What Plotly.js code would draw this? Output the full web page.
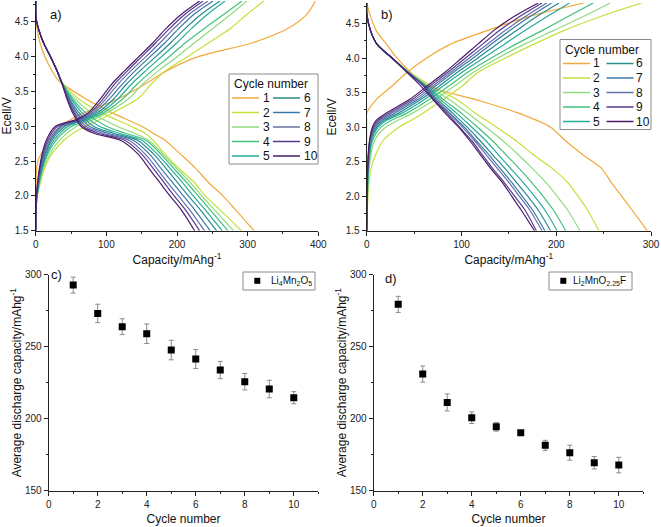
<!DOCTYPE html>
<html><head><meta charset="utf-8">
<script src="https://cdn.plot.ly/plotly-3.0.1.min.js"></script>
<style>html,body{margin:0;padding:0;background:#fff}</style>
</head><body>
<div id="chart" style="width:661px;height:527px"></div>
<script>
// ---------- data ----------
const cycleLabels = ['1','2','3','4','5','6','7','8','9','10'];
const cycleColors = ['#f2a93b','#c4e03a','#8fdc80','#43bf7a','#26ac9a','#2a8a8c','#3a78a8','#6670a6','#553a8e','#4a1b6a'];

// panel a) discharge: voltage levels (V) and capacity (mAh/g) of each cycle at those levels
const aDisV = [4.8, 4.55, 4.4, 4.2, 4.0, 3.8, 3.65, 3.4, 3.2, 3.0, 2.9, 2.8, 2.6, 2.4, 2.2, 2.0, 1.8, 1.5];
const aDisCap = [
  [0, 0, 2, 6, 13, 23, 33, 70, 107, 150, 166, 183, 205, 226, 244, 265, 283, 309],
  [0, 0.5, 4, 11, 21, 30, 36, 60, 92, 135, 155, 166, 183, 202, 224, 240, 261, 291],
  [0, 0.5, 4, 11, 21, 30, 36, 55, 78, 115, 140, 160, 180, 199, 218, 235, 253, 280],
  [0, 0.5, 4, 11, 21, 30, 36, 52, 70, 100, 127, 156, 177, 195, 213, 230, 247, 272],
  [0, 0.5, 4, 11, 21, 30, 36, 50, 65, 90, 118, 150, 172, 190, 207, 223, 240, 264],
  [0, 0.5, 4, 11, 21, 30, 36, 48, 61, 82, 110, 144, 167, 184, 200, 216, 233, 256],
  [0, 0.5, 4, 11, 21, 30, 36, 47, 58, 76, 102, 138, 161, 177, 193, 209, 225, 247],
  [0, 0.5, 4, 11, 21, 30, 36, 46, 56, 71, 95, 132, 155, 171, 186, 202, 218, 239],
  [0, 0.5, 4, 11, 21, 30, 36, 45, 54, 67, 88, 126, 150, 166, 181, 196, 212, 232],
  [0, 0.5, 4, 11, 21, 30, 36, 44, 52, 64, 82, 120, 145, 160, 175, 190, 206, 225]
];
// panel a) charge
const aChgV = [1.5, 2.0, 2.5, 2.8, 3.0, 3.1, 3.2, 3.4, 3.6, 3.8, 4.0, 4.2, 4.4, 4.6, 4.8];
const aChgCap = [
  [0, 0, 3, 20, 35, 50, 70, 118, 154, 186, 230, 307, 356, 383, 396],
  [0, 2.5, 17, 40, 70, 92, 110, 145, 163, 184, 215, 245, 275, 298, 323],
  [0, 2, 15, 34, 58, 82, 102, 132, 151, 174, 200, 225, 250, 275, 299],
  [0, 2, 13, 29, 51, 76, 97, 124, 143, 165, 189, 212, 238, 265, 292],
  [0, 2, 12, 26, 46, 72, 92, 117, 135, 156, 178, 200, 220, 242, 268],
  [0, 1.5, 11, 23, 42, 69, 88, 111, 128, 148, 170, 191, 211, 233, 261],
  [0, 1.5, 10, 21, 38, 66, 84, 105, 122, 141, 162, 183, 202, 223, 251],
  [0, 1.5, 9, 19, 35, 64, 81, 100, 116, 135, 156, 176, 195, 216, 244],
  [0, 1, 8, 17, 31, 61, 78, 96, 111, 130, 150, 170, 189, 210, 237],
  [0, 1, 7, 15, 28, 58, 75, 92, 107, 126, 146, 166, 184, 205, 232]
];
// panel b) discharge
const bDisV = [4.8, 4.65, 4.4, 4.2, 4.0, 3.8, 3.6, 3.4, 3.2, 3.0, 2.8, 2.6, 2.4, 2.2, 2.0, 1.8, 1.5];
const bDisCap = [
  [0, 3, 10, 21, 32, 46, 64, 115, 161, 194, 210, 228, 248, 258, 269, 280, 296],
  [0, 0, 4, 11, 27, 45, 68, 95, 115, 137, 158, 176, 196, 212, 223, 233, 245],
  [0, 0, 4, 11, 27, 44, 65, 87, 107, 126, 144, 160, 175, 189, 201, 212, 225],
  [0, 0, 4, 11, 27, 44, 63, 81, 100, 117, 133, 147, 161, 174, 186, 197, 210],
  [0, 0, 4, 11, 27, 43, 62, 78, 95, 111, 126, 139, 152, 165, 177, 188, 201],
  [0, 0, 4, 11, 27, 43, 61, 75, 91, 106, 120, 133, 146, 158, 170, 181, 194],
  [0, 0, 4, 11, 27, 43, 60, 73, 88, 103, 116, 129, 141, 153, 164, 175, 188],
  [0, 0, 4, 11, 27, 43, 60, 72, 87, 101, 114, 126, 138, 150, 161, 172, 185],
  [0, 0, 4, 11, 27, 43, 60, 71, 85, 98, 111, 122, 133, 145, 156, 167, 179],
  [0, 0, 4, 11, 27, 42, 57, 70, 83, 97, 109, 120, 131, 143, 153, 163, 177]
];
// panel b) charge
const bChgV = [1.5, 2.4, 2.8, 3.0, 3.1, 3.2, 3.4, 3.6, 3.8, 4.0, 4.2, 4.4, 4.6, 4.8];
const bChgCap = [
  [0, 0, 0, 0, 0, 0, 10, 27, 43, 63, 88, 127, 170, 229],
  [0, 4.5, 17, 34, 47, 59, 81, 101, 118, 146, 176, 208, 246, 290],
  [0, 2.5, 8, 20, 33, 48, 72, 93, 113, 138, 166, 197, 228, 257],
  [0, 2, 6, 15, 26, 42, 66, 87, 107, 131, 157, 185, 212, 239],
  [0, 1.5, 5, 12, 21, 37, 61, 81, 101, 123, 145, 167, 190, 214],
  [0, 1.5, 4, 10.5, 18.5, 33, 57, 77, 96, 117, 137, 158, 179, 203],
  [0, 1, 3.5, 9, 16, 29, 54, 73, 92, 112, 131, 151, 172, 195],
  [0, 1, 3.5, 8, 14, 26, 51, 70, 89, 108, 127, 146, 167, 190],
  [0, 1, 3, 7, 12, 23, 48, 67, 86, 104, 122, 140, 161, 185],
  [0, 1, 3, 6, 10, 20, 45, 64, 83, 100, 117, 134, 155, 181]
];
// panels c) and d): average discharge capacity vs cycle number
const cycleNum = [1, 2, 3, 4, 5, 6, 7, 8, 9, 10];
const cAvg = [292.8, 273.1, 263.9, 259.0, 247.7, 241.4, 233.8, 225.7, 220.6, 214.6];
const cErr = [5.5, 6.4, 5.5, 6.8, 6.8, 6.6, 6.0, 5.7, 6.1, 4.2];
const dAvg = [279.4, 231.0, 211.3, 200.7, 194.4, 190.3, 181.5, 176.4, 169.4, 167.8];
const dErr = [5.6, 5.6, 5.9, 4.0, 3.0, 1.5, 3.5, 5.2, 4.3, 5.4];
const cName = 'Li<sub>4</sub>Mn<sub>2</sub>O<sub>5</sub>';
const dName = 'Li<sub>2</sub>MnO<sub>2.25</sub>F';

// ---------- drawing ----------
const W = 661, H = 527;
const FONT = 'Liberation Sans, Arial, sans-serif';
const fx = x => x / W, fy = y => 1 - y / H;

const traces = [];
function cycleTrace(dCap, dV, cCap, cV, k, xa, ya) {
  return {
    type: 'scatter', mode: 'lines', xaxis: xa, yaxis: ya,
    x: dCap.concat([null], cCap), y: dV.concat([null], cV),
    connectgaps: false, name: cycleLabels[k], showlegend: false, hoverinfo: 'skip',
    line: {color: cycleColors[k], width: 1.2, shape: 'spline', smoothing: 0.8}
  };
}
for (let k = 0; k < 10; k++) traces.push(cycleTrace(aDisCap[k], aDisV, aChgCap[k], aChgV, k, 'x', 'y'));
for (let k = 0; k < 10; k++) traces.push(cycleTrace(bDisCap[k], bDisV, bChgCap[k], bChgV, k, 'x2', 'y2'));
function avgTrace(yv, err, name, xa, ya) {
  return {
    type: 'scatter', mode: 'markers', x: cycleNum, y: yv, xaxis: xa, yaxis: ya, name: name, showlegend: false,
    marker: {symbol: 'square', size: 7, color: '#000'},
    error_y: {type: 'data', array: err, visible: true, color: '#8a8a8a', thickness: 1, width: 2.5}
  };
}
traces.push(avgTrace(cAvg, cErr, cName, 'x3', 'y3'));
traces.push(avgTrace(dAvg, dErr, dName, 'x4', 'y4'));

const axBase = () => ({
  showline: true, linecolor: '#222', linewidth: 1, ticks: 'outside', ticklen: 4, tickwidth: 1, tickcolor: '#222',
  showgrid: false, zeroline: false, fixedrange: true,
  tickfont: {size: 10, color: '#222', family: FONT}
});
function ax(extra) { return Object.assign(axBase(), extra); }
const capTitle = {text: 'Capacity/mAhg<sup>-1</sup>', font: {size: 12, color: '#111', family: FONT}, standoff: 6};
const eTitle = {text: 'Ecell/V', font: {size: 12, color: '#111', family: FONT}, standoff: 6};
const avgTitle = {text: 'Average discharge capacity/mAhg<sup>-1</sup>', font: {size: 12, color: '#111', family: FONT}, standoff: 0};
const cycTitle = {text: 'Cycle number', font: {size: 12, color: '#111', family: FONT}, standoff: 5};

const layout = {
  width: W, height: H, margin: {l: 0, r: 0, t: 0, b: 0}, autosize: false,
  paper_bgcolor: '#fff', plot_bgcolor: 'rgba(0,0,0,0)', showlegend: false,
  font: {family: FONT, color: '#111'},
  xaxis: ax({domain: [fx(35.7), fx(318.3)], range: [0, 400], dtick: 100, tick0: 0, anchor: 'y',
    minor: {ticks: 'outside', ticklen: 2, dtick: 50, tickcolor: '#222'}, title: capTitle}),
  yaxis: ax({domain: [fy(230.7), fy(1)], range: [1.5, 4.8], dtick: 0.5, tick0: 1.5, tickformat: '.1f', anchor: 'x',
    minor: {ticks: 'outside', ticklen: 2, dtick: 0.25, tickcolor: '#222'}, title: eTitle}),
  xaxis2: ax({domain: [fx(366.7), fx(651)], range: [0, 300], dtick: 100, tick0: 0, anchor: 'y2',
    minor: {ticks: 'outside', ticklen: 2, dtick: 50, tickcolor: '#222'}, title: capTitle}),
  yaxis2: ax({domain: [fy(230.7), fy(3)], range: [1.5, 4.8], dtick: 0.5, tick0: 1.5, tickformat: '.1f', anchor: 'x2',
    minor: {ticks: 'outside', ticklen: 2, dtick: 0.25, tickcolor: '#222'}, title: eTitle}),
  xaxis3: ax({domain: [fx(48.7), fx(318.3)], range: [0, 11], dtick: 2, tick0: 0, anchor: 'y3',
    minor: {ticks: 'outside', ticklen: 2, dtick: 1, tickcolor: '#222'}, title: cycTitle}),
  yaxis3: ax({domain: [fy(490.7), fy(274.7)], range: [150, 300], dtick: 50, tick0: 150, anchor: 'x3',
    minor: {ticks: 'outside', ticklen: 2, dtick: 25, tickcolor: '#222'}, title: avgTitle}),
  xaxis4: ax({domain: [fx(373.7), fx(643.3)], range: [0, 11], dtick: 2, tick0: 0, anchor: 'y4',
    minor: {ticks: 'outside', ticklen: 2, dtick: 1, tickcolor: '#222'}, title: cycTitle}),
  yaxis4: ax({domain: [fy(490.7), fy(274.7)], range: [150, 300], dtick: 50, tick0: 150, anchor: 'x4',
    minor: {ticks: 'outside', ticklen: 2, dtick: 25, tickcolor: '#222'}, title: avgTitle}),
  shapes: [], annotations: []
};

// panel letters
[['a)', 56, 15], ['b)', 387, 14], ['c)', 56, 274], ['d)', 391, 278]].forEach(p => {
  layout.annotations.push({text: p[0], x: fx(p[1]), y: fy(p[2]), xref: 'paper', yref: 'paper',
    xanchor: 'center', yanchor: 'middle', showarrow: false, font: {size: 13, color: '#111', family: FONT}});
});

// "Cycle number" legends (two columns) for panels a) and b)
function cycleLegend(box, titleY, rows, colLines, colText) {
  layout.shapes.push({type: 'rect', xref: 'paper', yref: 'paper', x0: fx(box[0]), x1: fx(box[1]), y0: fy(box[2]), y1: fy(box[3]),
    line: {color: '#8a8a8a', width: 1}, fillcolor: '#fff', layer: 'above'});
  layout.annotations.push({text: 'Cycle number', x: fx(box[0] + 2.5), y: fy(titleY), xref: 'paper', yref: 'paper',
    xanchor: 'left', yanchor: 'middle', showarrow: false, font: {size: 12, color: '#111', family: FONT}});
  for (let k = 0; k < 10; k++) {
    const col = k < 5 ? 0 : 1, row = k % 5;
    const yy = fy(rows[row]);
    layout.shapes.push({type: 'line', xref: 'paper', yref: 'paper', x0: fx(colLines[col][0]), x1: fx(colLines[col][1]),
      y0: yy, y1: yy, line: {color: cycleColors[k], width: 1.5}, layer: 'above'});
    layout.annotations.push({text: cycleLabels[k], x: fx(colText[col]), y: yy, xref: 'paper', yref: 'paper',
      xanchor: 'left', yanchor: 'middle', showarrow: false, font: {size: 12, color: '#111', family: FONT}});
  }
}
cycleLegend([229, 318, 74, 164], 83.5, [98, 112.5, 127, 141.5, 156], [[232, 259], [273, 300]], [260.5, 301.5]);
cycleLegend([560, 651, 39.5, 129.5], 49.5, [63.5, 78, 92.5, 107, 121.5], [[563, 590], [606.5, 633.5]], [590.5, 634]);

// sample legends for panels c) and d)
function sampleLegend(box, mx, my, tx, label) {
  layout.shapes.push({type: 'rect', xref: 'paper', yref: 'paper', x0: fx(box[0]), x1: fx(box[1]), y0: fy(box[2]), y1: fy(box[3]),
    line: {color: '#8a8a8a', width: 1}, fillcolor: '#fff', layer: 'above'});
  layout.shapes.push({type: 'rect', xref: 'paper', yref: 'paper', x0: fx(mx - 3), x1: fx(mx + 3), y0: fy(my - 3), y1: fy(my + 3),
    line: {width: 0}, fillcolor: '#000', layer: 'above'});
  layout.annotations.push({text: label, x: fx(tx), y: fy(my), xref: 'paper', yref: 'paper',
    xanchor: 'left', yanchor: 'middle', showarrow: false, font: {size: 10, color: '#111', family: FONT}});
}
sampleLegend([243, 315, 272, 290], 257.3, 280.8, 268.5, cName);
sampleLegend([549, 632, 272, 290], 563.3, 280.8, 571, dName);

Plotly.newPlot('chart', traces, layout, {staticPlot: true, displayModeBar: false});
</script>
</body></html>
